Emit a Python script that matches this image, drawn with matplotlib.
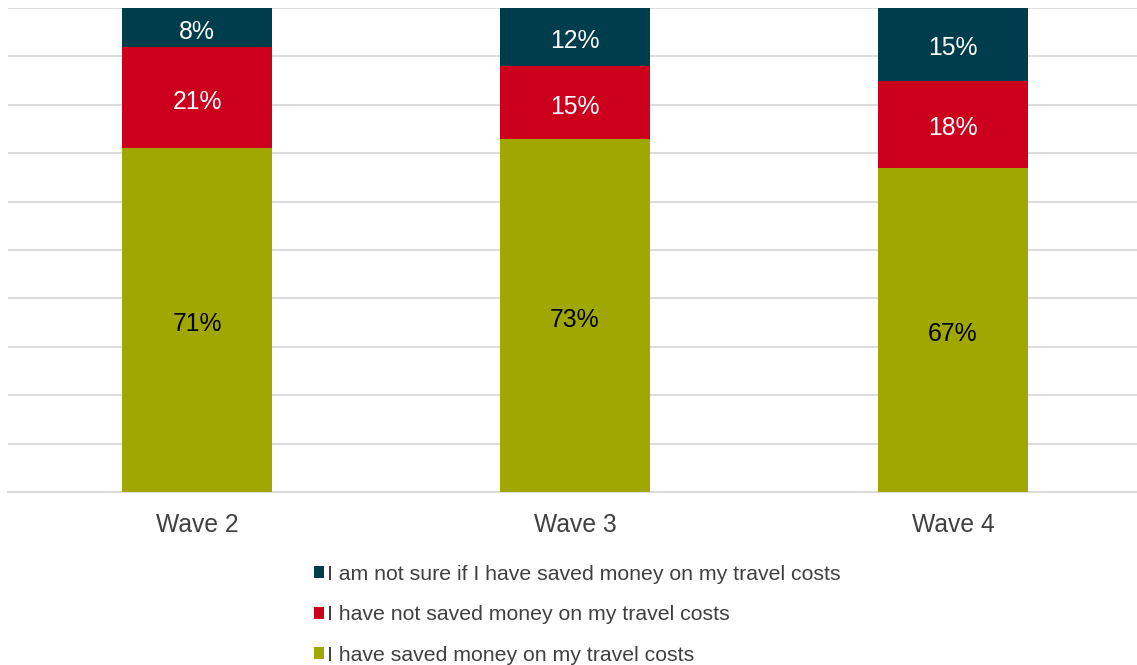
import matplotlib.pyplot as plt
from matplotlib.patches import Patch

plt.rcParams['font.family'] = ['Liberation Sans', 'DejaVu Sans']

waves = ["Wave 2", "Wave 3", "Wave 4"]
saved = [71, 73, 67]
not_saved = [21, 15, 18]
not_sure = [8, 12, 15]

series = [
    ("I have saved money on my travel costs", saved, "#9FA700", "black"),
    ("I have not saved money on my travel costs", not_saved, "#CC001D", "white"),
    ("I am not sure if I have saved money on my travel costs", not_sure, "#003D4C", "white"),
]

fig = plt.figure(figsize=(11.37, 6.65), dpi=100)
ax = fig.add_axes([8 / 1137, 173 / 665, 1134 / 1137, 484 / 665])

x = range(len(waves))
bottom = [0] * len(waves)
handles = []
for label, vals, color, tcolor in series:
    bars = ax.bar(x, vals, width=0.397, bottom=bottom, color=color, zorder=3)
    ax.bar_label(bars, labels=[f"{v}%" for v in vals], label_type="center",
                 color=tcolor, fontsize=17.8, padding=-3)
    bottom = [b + v for b, v in zip(bottom, vals)]
    handles.append(Patch(facecolor=color, label=label))

ax.set_xlim(-0.5, 2.5)
ax.set_ylim(0, 100)
ax.set_yticks(range(0, 101, 10))
ax.yaxis.grid(True, color="#D9D9D9", linewidth=1.3, zorder=0)
ax.tick_params(axis="y", left=False, labelleft=False)
ax.tick_params(axis="x", bottom=False, labelsize=17.7, labelcolor="#404040", pad=11.5)
ax.set_xticks(list(x))
ax.set_xticklabels(waves)
for side in ["top", "right", "left"]:
    ax.spines[side].set_visible(False)
ax.spines["bottom"].set_color("#D9D9D9")
ax.spines["bottom"].set_linewidth(1.3)

leg = fig.legend(handles=handles[::-1], loc="upper left",
                 bbox_to_anchor=(305 / 1137, 1 - 556 / 665),
                 frameon=False, fontsize=15.3, handlelength=0.5,
                 handleheight=0.5, handletextpad=0.15, labelspacing=1.02,
                 borderaxespad=0)
for t in leg.get_texts():
    t.set_color("#404040")

fig.savefig("out.png", dpi=100)
